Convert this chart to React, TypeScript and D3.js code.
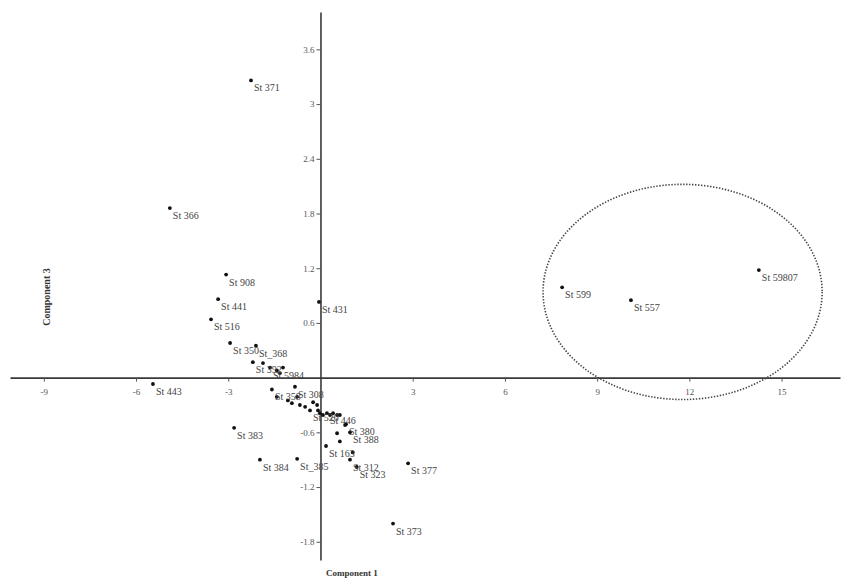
import React, { useRef, useEffect } from 'react';
import * as d3 from 'd3';

// tick labels
const xTicks = [-9, -6, -3, 3, 6, 9, 12, 15];
const yTicks = [3.6, 3, 2.4, 1.8, 1.2, 0.6, -0.6, -1.2, -1.8];

// component scores (comp 1, comp 3)
const names = [
  'St 371', 'St 366', 'St 908', 'St 441', 'St 516', 'St 350', 'St_368', 'St 431',
  'St 443', 'St 383', 'St 384', 'St_385', 'St 373', 'St 377', 'St 599', 'St 557',
  'St 59807', 'St 323', 'St 312', 'St 163', 'St 388', 'St 380', 'St 302', 'St 309',
  'St 392', 'St 5984', 'St 394', 'St 387', 'St 396', 'St 391',
  'St 358', 'St 308', 'St 361', 'St 362', 'St 306', 'St 364', 'St 365', 'St 510',
  'St 520', 'St 521', 'St 522', 'St 523', 'St 446', 'St 525', 'St 526', 'St 527',
  'St 528', 'St 529', 'St 530', 'St 531', 'St 532'
];
const comp1 = [
  -2.26, -4.9, -3.07, -3.33, -3.56, -2.94, -2.1, -0.05,
  -5.45, -2.81, -1.97, -0.76, 2.36, 2.85, 7.86, 10.1,
  14.26, 1.18, 0.96, 0.18, 0.96, 0.83, 0.54, 0.63,
  -2.2, -1.64, -1.87, -1.42, -1.22, -1.32,
  -1.58, -0.83, -1.42, -1.06, -0.76, -0.93, -0.67, -0.5,
  -0.34, -0.24, -0.11, -0.08, 0.21, -0.02, 0.08, 0.31,
  0.41, 0.54, 0.63, 0.8, 1.05
];
const comp3 = [
  3.26, 1.86, 1.13, 0.86, 0.64, 0.38, 0.35, 0.83,
  -0.07, -0.55, -0.9, -0.89, -1.6, -0.94, 0.99, 0.85,
  1.18, -0.98, -0.9, -0.75, -0.6, -0.51, -0.61, -0.7,
  0.17, 0.11, 0.16, 0.08, 0.11, 0.05,
  -0.13, -0.1, -0.21, -0.25, -0.21, -0.28, -0.3, -0.32,
  -0.36, -0.27, -0.3, -0.36, -0.39, -0.39, -0.41, -0.41,
  -0.39, -0.41, -0.41, -0.52, -0.82
];
// points in the dense cluster whose label is drawn
const showLabel = [
  true, true, true, true, true, true, true, true,
  true, true, true, true, true, true, true, true,
  true, true, true, true, true, true, false, false,
  true, true, false, false, false, false,
  true, true, false, false, false, false, false, false,
  true, false, false, false, true, false, false, false,
  false, false, false, false, false
];

// outlier group ellipse: centre and radii in data units
const ellipseCentre = [11.78, 0.94];
const ellipseRadii = [4.54, 1.18];

const App = () => {
  const ref = useRef<SVGSVGElement>(null);

  useEffect(() => {
    const width = 852;
    const height = 580;
    const svg = d3.select(ref.current);
    svg.selectAll('*').remove();
    svg.attr('width', width).attr('height', height);

    const x = d3.scaleLinear().domain([-10.1, 16.9]).range([10, 840]);
    const y = d3.scaleLinear().domain([4.01, -2.0]).range([12, 560]);

    const serif = '"Liberation Serif", "DejaVu Serif", serif';

    const xAxis = d3.axisBottom(x).tickValues(xTicks).tickSize(4).tickSizeOuter(0)
      .tickFormat(d => String(d));
    const gx = svg.append('g').attr('transform', `translate(0,${y(0)})`).call(xAxis);

    const yAxis = d3.axisLeft(y).tickValues(yTicks).tickSize(4).tickSizeOuter(0)
      .tickFormat(d => String(d));
    const gy = svg.append('g').attr('transform', `translate(${x(0)},0)`).call(yAxis);

    [gx, gy].forEach(g => {
      g.select('.domain').attr('stroke', '#3a3a3a').attr('stroke-width', 1.6);
      g.selectAll('.tick line').attr('stroke', '#555').attr('stroke-width', 1);
      g.selectAll('.tick text')
        .attr('fill', '#555')
        .style('font-family', serif)
        .style('font-size', '9px');
    });
    gx.selectAll('.tick text').attr('dy', '1.1em');
    gy.selectAll('.tick text').attr('x', -6);

    // dotted ellipse around the outliers
    svg.append('ellipse')
      .attr('cx', x(ellipseCentre[0]))
      .attr('cy', y(ellipseCentre[1]))
      .attr('rx', x(ellipseCentre[0] + ellipseRadii[0]) - x(ellipseCentre[0]))
      .attr('ry', y(ellipseCentre[1] - ellipseRadii[1]) - y(ellipseCentre[1]))
      .attr('fill', 'none')
      .attr('stroke', '#444')
      .attr('stroke-width', 1.6)
      .attr('stroke-dasharray', '1.4,1.6');

    const pts = names.map((n, i) => ({ n, c1: comp1[i], c3: comp3[i], lab: showLabel[i] }));

    svg.append('g').selectAll('circle')
      .data(pts)
      .enter()
      .append('circle')
      .attr('cx', d => x(d.c1))
      .attr('cy', d => y(d.c3))
      .attr('r', 1.9)
      .attr('fill', '#111');

    svg.append('g').selectAll('text')
      .data(pts.filter(d => d.lab))
      .enter()
      .append('text')
      .attr('x', d => x(d.c1) + 3)
      .attr('y', d => y(d.c3) + 11)
      .attr('fill', '#444')
      .style('font-family', serif)
      .style('font-size', '10px')
      .text(d => d.n);

    svg.append('text')
      .attr('x', 352)
      .attr('y', 576)
      .attr('text-anchor', 'middle')
      .attr('fill', '#333')
      .style('font-family', serif)
      .style('font-size', '9px')
      .style('font-weight', 'bold')
      .text('Component 1');

    svg.append('text')
      .attr('transform', 'translate(50,297) rotate(-90)')
      .attr('text-anchor', 'middle')
      .attr('fill', '#333')
      .style('font-family', serif)
      .style('font-size', '10px')
      .style('font-weight', 'bold')
      .text('Component 3');
  }, []);

  return (
    <svg ref={ref} style={{ position: 'absolute', left: 0, top: 0, background: '#fff' }}></svg>
  );
};

export default App;
